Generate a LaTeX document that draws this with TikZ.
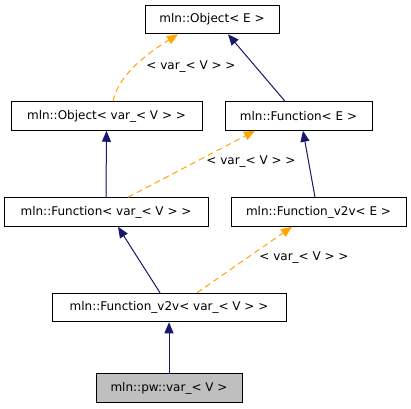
\documentclass[tikz,border=0pt]{standalone}
\usepackage{fontspec}
\setmainfont{DejaVu Sans}
\usetikzlibrary{arrows.meta}
\definecolor{edgenavy}{HTML}{191970}
\definecolor{edgeorange}{HTML}{FFA500}
\definecolor{boxgray}{HTML}{BFBFBF}
\begin{document}
\begin{tikzpicture}[x=1pt,y=-1pt,
  cls/.style={draw=black,line width=1pt,fill=white,inner sep=0pt,minimum height=28.5pt,font=\fontsize{12}{14}\selectfont},
  inh/.style={draw=edgenavy,line width=1pt,-{Triangle[length=11pt,width=9pt]},fill=edgenavy},
  tmpl/.style={draw=edgeorange,line width=1pt,dash pattern=on 6pt off 4pt,-{Triangle[length=11pt,width=9pt,fill=edgeorange]}},
  lbl/.style={inner sep=0pt,font=\fontsize{12}{14}\selectfont}]
\useasboundingbox (0,0) rectangle (411,408);
\node[cls,minimum width=134pt] (oe) at (212,19.5) {mln::Object< E >};
\node[cls,minimum width=191pt] (ov) at (106.5,116) {mln::Object< var\_< V > >};
\node[cls,minimum width=147pt] (fe) at (298.5,116) {mln::Function< E >};
\node[cls,minimum width=204pt] (fv) at (106,212) {mln::Function< var\_< V > >};
\node[cls,minimum width=175pt] (ve) at (318.5,212) {mln::Function\_v2v< E >};
\node[cls,minimum width=234pt] (vv) at (169,307.5) {mln::Function\_v2v< var\_< V > >};
\node[cls,minimum width=146pt,fill=boxgray] (pw) at (169,388) {mln::pw::var\_< V >};

\draw[tmpl] ([xshift=6.5pt]ov.north) .. controls (118,78) and (140,58) .. ([xshift=-34pt]oe.south);
\node[lbl] (l1) at (191,67) {< var\_< V > >};
\draw[inh] ([xshift=-13.5pt]fe.north) -- ([xshift=16pt]oe.south);
\draw[inh] (fv.north) -- (ov.south);
\draw[tmpl] ([xshift=22pt]fv.north) -- ([xshift=-43.5pt]fe.south);
\node[lbl] (l2) at (251,162) {< var\_< V > >};
\draw[inh] ([xshift=-3.5pt]ve.north) -- ([xshift=4.5pt]fe.south);
\draw[inh] ([xshift=-9pt]vv.north) -- ([xshift=12pt]fv.south);
\draw[tmpl] ([xshift=28pt]vv.north) -- ([xshift=-26.5pt]ve.south);
\node[lbl] (l3) at (304,258) {< var\_< V > >};
\draw[inh] (pw.north) -- (vv.south);
\end{tikzpicture}
\end{document}
